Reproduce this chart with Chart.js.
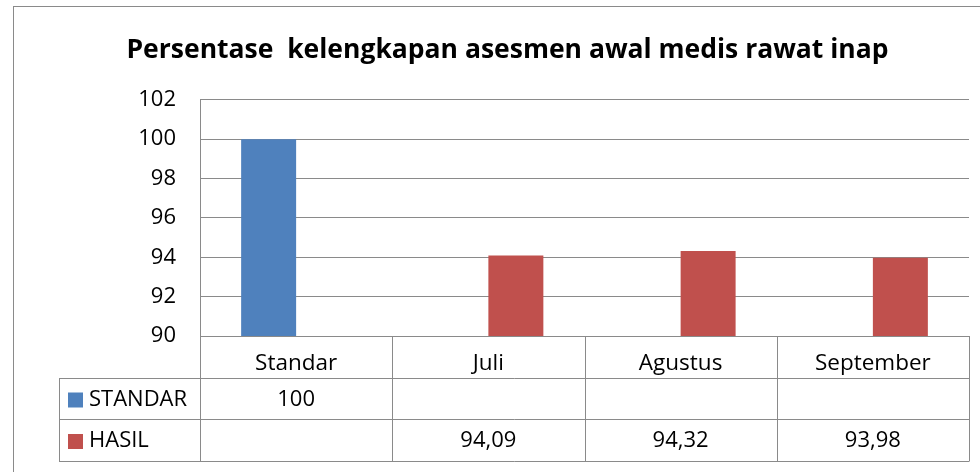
<!DOCTYPE html>
<html>
<head>
<meta charset="utf-8">
<script src="https://cdn.jsdelivr.net/npm/chart.js@4/dist/chart.umd.min.js"></script>
<style>
  html, body { margin: 0; padding: 0; background: #fff; }
  #wrap { position: relative; width: 980px; height: 472px; overflow: hidden; }
  #frame { position: absolute; left: 13px; top: 6px; width: 1000px; height: 500px;
           border-left: 1px solid #8a8a8a; border-top: 1px solid #8a8a8a; }
  canvas { position: absolute; left: 0; top: 0; }
</style>
</head>
<body>
<div id="wrap">
  <div id="frame"></div>
  <canvas id="chart" width="980" height="472"></canvas>
</div>
<script>
var categories = ['Standar', 'Juli', 'Agustus', 'September'];
var seriesNames = ['STANDAR', 'HASIL'];
var standarValues = [100, null, null, null];
var hasilValues = [null, 94.09, 94.32, 93.98];
var yTicks = [90, 92, 94, 96, 98, 100, 102];

var FONT = "'Open Sans', sans-serif";
var GRID = '#8a8a8a';

function fmt(v) {
  return v === null ? '' : String(v).replace('.', ',');
}

// data table drawn below the plot, columns follow the category scale
var dataTable = {
  id: 'dataTable',
  afterDraw: function (chart) {
    var ctx = chart.ctx;
    var x = chart.scales.x;
    var area = chart.chartArea;
    var half = (x.getPixelForValue(1) - x.getPixelForValue(0)) / 2;
    var left = 59;
    var rows = [area.bottom + 42, area.bottom + 83, area.bottom + 125];
    var right = area.right;

    ctx.save();
    ctx.strokeStyle = GRID;
    ctx.lineWidth = 1;
    ctx.beginPath();
    rows.forEach(function (y) {
      ctx.moveTo(left, y + 0.5);
      ctx.lineTo(right + 0.5, y + 0.5);
    });
    ctx.moveTo(left + 0.5, rows[0]);
    ctx.lineTo(left + 0.5, rows[2]);
    for (var i = 0; i < categories.length; i++) {
      var bx = Math.round(x.getPixelForValue(i) - half) + 0.5;
      ctx.moveTo(bx, area.bottom);
      ctx.lineTo(bx, rows[2]);
    }
    ctx.moveTo(Math.round(right) + 0.5, area.bottom);
    ctx.lineTo(Math.round(right) + 0.5, rows[2]);
    ctx.stroke();

    ctx.font = '22px ' + FONT;
    ctx.textBaseline = 'middle';
    chart.data.datasets.forEach(function (ds, r) {
      var cy = (rows[r] + rows[r + 1]) / 2 + 1;
      ctx.fillStyle = ds.backgroundColor;
      ctx.fillRect(68, cy - 7, 15, 15);
      ctx.fillStyle = '#000';
      ctx.textAlign = 'left';
      ctx.fillText(ds.label, 89, cy);
      ctx.textAlign = 'center';
      ds.data.forEach(function (v, i) {
        ctx.fillText(fmt(v), x.getPixelForValue(i), cy);
      });
    });
    ctx.restore();
  }
};

new Chart(document.getElementById('chart'), {
  type: 'bar',
  data: {
    labels: categories,
    datasets: [
      { label: seriesNames[0], data: standarValues, backgroundColor: '#4F81BD' },
      { label: seriesNames[1], data: hasilValues, backgroundColor: '#C0504D' }
    ]
  },
  options: {
    responsive: false,
    animation: false,
    layout: { padding: { left: 46, right: 11, top: 0, bottom: 0 } },
    datasets: { bar: { categoryPercentage: 0.572, barPercentage: 1 } },
    plugins: {
      legend: { display: false },
      tooltip: { enabled: false },
      title: {
        display: true,
        text: 'Persentase  kelengkapan asesmen awal medis rawat inap',
        color: '#000',
        font: { family: FONT, size: 26.5, weight: 'bold', lineHeight: 1.2 },
        padding: { top: 35, bottom: 33 }
      }
    },
    scales: {
      x: {
        grid: { display: false },
        border: { display: true, color: GRID },
        ticks: { color: '#000', font: { family: FONT, size: 22.5 }, padding: 6, maxRotation: 0 },
        afterFit: function (s) { s.height = 136; }
      },
      y: {
        min: 90,
        max: 102,
        afterBuildTicks: function (s) { s.ticks = yTicks.map(function (v) { return { value: v }; }); },
        grid: { color: GRID, drawTicks: false },
        border: { color: GRID },
        ticks: { color: '#000', font: { family: FONT, size: 22 }, padding: 24 },
        afterFit: function (s) { s.width = 154; }
      }
    }
  },
  plugins: [dataTable]
});
</script>
</body>
</html>
